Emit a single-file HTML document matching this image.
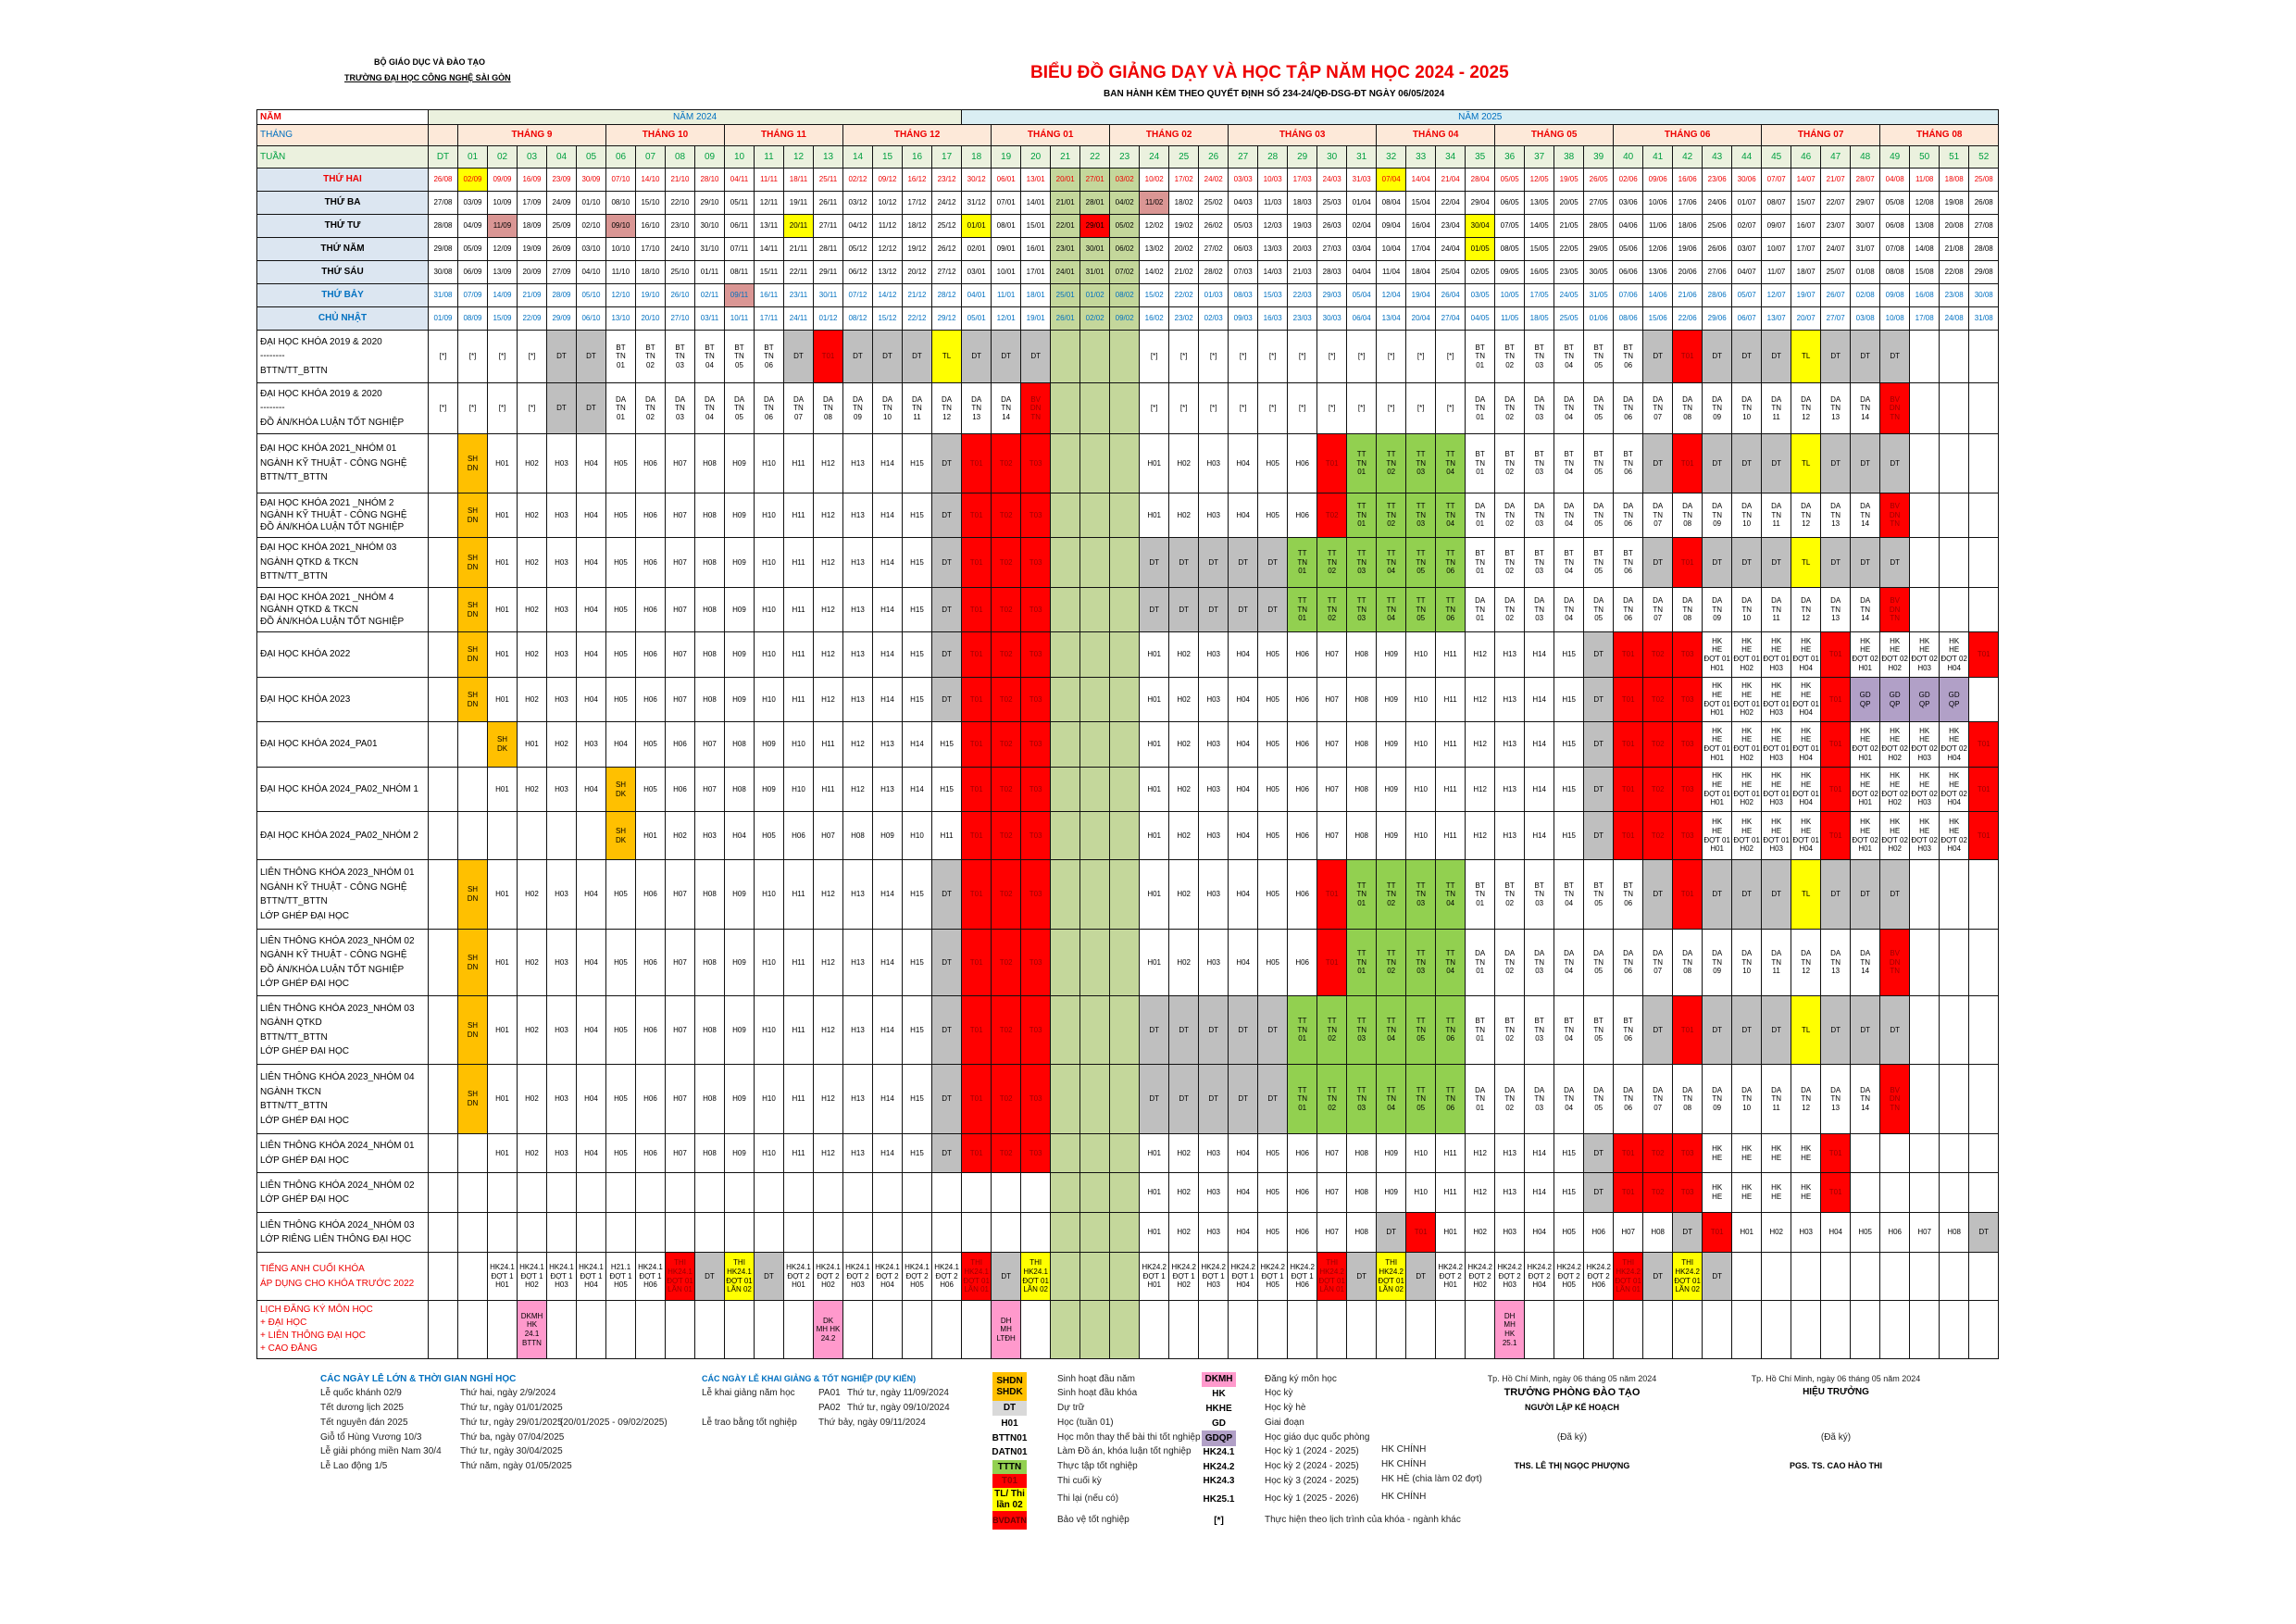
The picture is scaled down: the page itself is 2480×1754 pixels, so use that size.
<!DOCTYPE html>
<html><head><meta charset="utf-8">
<style>
*{box-sizing:border-box;margin:0;padding:0}
body{width:2480px;height:1754px;background:#fff;position:relative;font-family:"Liberation Sans",Arial,sans-serif;overflow:hidden}
.abs{position:absolute;white-space:nowrap}
table{position:absolute;left:277px;top:118px;border-collapse:collapse;table-layout:fixed;width:1881px}
td{border:1px solid #111;text-align:center;vertical-align:middle;font-size:8px;line-height:1.2;overflow:hidden;padding:0}
td.lb{text-align:left;font-size:10px;line-height:1.55;padding-left:3px}
.o{background:#ffc000}.g{background:#bfbfbf}.r{background:#ff0000;color:#900}.y{background:#ffff00}.n{background:#92d050}.l{background:#c4d79b}.p{background:#ff99cc}.v{background:#b1a0c7}.k{background:#da9694}
tr.h1 td{height:16px;font-size:10px;color:#0070c0}
tr.h2 td{height:23px;font-size:10px;font-weight:bold;color:#e00;background:#fde9d9}
tr.h3 td{height:24px;font-size:10px;color:#00a040;background:#ebf1de}
tr.d td{height:25px}
tr.d td.dl{background:#dce6f1;font-weight:bold;font-size:10px}
tr.mon td{color:#e00}tr.blu td{color:#0070c0}
.leg{font-size:10px;color:#222}
.bx{position:absolute;width:37px;text-align:center;font-size:10px;font-weight:bold;display:flex;align-items:center;justify-content:center;line-height:1.2}
</style></head><body>
<div class="abs" style="left:404px;top:62px;font-size:9px;font-weight:bold">BỘ GIÁO DỤC VÀ ĐÀO TẠO</div>
<div class="abs" style="left:372px;top:79px;font-size:9px;font-weight:bold;text-decoration:underline">TRƯỜNG ĐẠI HỌC CÔNG NGHỆ SÀI GÒN</div>
<div class="abs" style="left:1113px;top:68px;font-size:19px;font-weight:bold;color:#e00">BIỂU ĐỒ GIẢNG DẠY VÀ HỌC TẬP NĂM HỌC 2024 - 2025</div>
<div class="abs" style="left:1192px;top:96px;font-size:10px;font-weight:bold">BAN HÀNH KÈM THEO QUYẾT ĐỊNH SỐ 234-24/QĐ-DSG-ĐT NGÀY 06/05/2024</div>

<table>
<colgroup><col style="width:185px"><col span="53" style="width:32px"></colgroup>
<tr class="h1"><td class="lb" style="color:#e00;font-weight:bold;line-height:1">NĂM</td><td colspan="18" style="background:#ebf1de">NĂM 2024</td><td colspan="35" style="background:#daeef3">NĂM 2025</td></tr>
<tr class="h2"><td class="lb" style="color:#0070c0;font-weight:normal;line-height:1">THÁNG</td><td></td><td colspan="5">THÁNG 9</td><td colspan="4">THÁNG 10</td><td colspan="4">THÁNG 11</td><td colspan="5">THÁNG 12</td><td colspan="4">THÁNG 01</td><td colspan="4">THÁNG 02</td><td colspan="5">THÁNG 03</td><td colspan="4">THÁNG 04</td><td colspan="4">THÁNG 05</td><td colspan="5">THÁNG 06</td><td colspan="4">THÁNG 07</td><td colspan="4">THÁNG 08</td></tr>
<tr class="h3"><td class="lb" style="line-height:1">TUẦN</td><td>DT</td><td>01</td><td>02</td><td>03</td><td>04</td><td>05</td><td>06</td><td>07</td><td>08</td><td>09</td><td>10</td><td>11</td><td>12</td><td>13</td><td>14</td><td>15</td><td>16</td><td>17</td><td>18</td><td>19</td><td>20</td><td>21</td><td>22</td><td>23</td><td>24</td><td>25</td><td>26</td><td>27</td><td>28</td><td>29</td><td>30</td><td>31</td><td>32</td><td>33</td><td>34</td><td>35</td><td>36</td><td>37</td><td>38</td><td>39</td><td>40</td><td>41</td><td>42</td><td>43</td><td>44</td><td>45</td><td>46</td><td>47</td><td>48</td><td>49</td><td>50</td><td>51</td><td>52</td></tr>

<tr class="d mon"><td class="dl" style="color:#e00">THỨ HAI</td><td>26/08</td><td class="y">02/09</td><td>09/09</td><td>16/09</td><td>23/09</td><td>30/09</td><td>07/10</td><td>14/10</td><td>21/10</td><td>28/10</td><td>04/11</td><td>11/11</td><td>18/11</td><td>25/11</td><td>02/12</td><td>09/12</td><td>16/12</td><td>23/12</td><td>30/12</td><td>06/01</td><td>13/01</td><td class="l">20/01</td><td class="l">27/01</td><td class="l">03/02</td><td>10/02</td><td>17/02</td><td>24/02</td><td>03/03</td><td>10/03</td><td>17/03</td><td>24/03</td><td>31/03</td><td class="y">07/04</td><td>14/04</td><td>21/04</td><td>28/04</td><td>05/05</td><td>12/05</td><td>19/05</td><td>26/05</td><td>02/06</td><td>09/06</td><td>16/06</td><td>23/06</td><td>30/06</td><td>07/07</td><td>14/07</td><td>21/07</td><td>28/07</td><td>04/08</td><td>11/08</td><td>18/08</td><td>25/08</td></tr>
<tr class="d"><td class="dl">THỨ BA</td><td>27/08</td><td>03/09</td><td>10/09</td><td>17/09</td><td>24/09</td><td>01/10</td><td>08/10</td><td>15/10</td><td>22/10</td><td>29/10</td><td>05/11</td><td>12/11</td><td>19/11</td><td>26/11</td><td>03/12</td><td>10/12</td><td>17/12</td><td>24/12</td><td>31/12</td><td>07/01</td><td>14/01</td><td class="l">21/01</td><td class="l">28/01</td><td class="l">04/02</td><td class="k">11/02</td><td>18/02</td><td>25/02</td><td>04/03</td><td>11/03</td><td>18/03</td><td>25/03</td><td>01/04</td><td>08/04</td><td>15/04</td><td>22/04</td><td>29/04</td><td>06/05</td><td>13/05</td><td>20/05</td><td>27/05</td><td>03/06</td><td>10/06</td><td>17/06</td><td>24/06</td><td>01/07</td><td>08/07</td><td>15/07</td><td>22/07</td><td>29/07</td><td>05/08</td><td>12/08</td><td>19/08</td><td>26/08</td></tr>
<tr class="d"><td class="dl">THỨ TƯ</td><td>28/08</td><td>04/09</td><td class="k">11/09</td><td>18/09</td><td>25/09</td><td>02/10</td><td class="k">09/10</td><td>16/10</td><td>23/10</td><td>30/10</td><td>06/11</td><td>13/11</td><td class="y">20/11</td><td>27/11</td><td>04/12</td><td>11/12</td><td>18/12</td><td>25/12</td><td class="y">01/01</td><td>08/01</td><td>15/01</td><td class="l">22/01</td><td class="r" style="color:#000">29/01</td><td class="l">05/02</td><td>12/02</td><td>19/02</td><td>26/02</td><td>05/03</td><td>12/03</td><td>19/03</td><td>26/03</td><td>02/04</td><td>09/04</td><td>16/04</td><td>23/04</td><td class="y">30/04</td><td>07/05</td><td>14/05</td><td>21/05</td><td>28/05</td><td>04/06</td><td>11/06</td><td>18/06</td><td>25/06</td><td>02/07</td><td>09/07</td><td>16/07</td><td>23/07</td><td>30/07</td><td>06/08</td><td>13/08</td><td>20/08</td><td>27/08</td></tr>
<tr class="d"><td class="dl">THỨ NĂM</td><td>29/08</td><td>05/09</td><td>12/09</td><td>19/09</td><td>26/09</td><td>03/10</td><td>10/10</td><td>17/10</td><td>24/10</td><td>31/10</td><td>07/11</td><td>14/11</td><td>21/11</td><td>28/11</td><td>05/12</td><td>12/12</td><td>19/12</td><td>26/12</td><td>02/01</td><td>09/01</td><td>16/01</td><td class="l">23/01</td><td class="l">30/01</td><td class="l">06/02</td><td>13/02</td><td>20/02</td><td>27/02</td><td>06/03</td><td>13/03</td><td>20/03</td><td>27/03</td><td>03/04</td><td>10/04</td><td>17/04</td><td>24/04</td><td class="y">01/05</td><td>08/05</td><td>15/05</td><td>22/05</td><td>29/05</td><td>05/06</td><td>12/06</td><td>19/06</td><td>26/06</td><td>03/07</td><td>10/07</td><td>17/07</td><td>24/07</td><td>31/07</td><td>07/08</td><td>14/08</td><td>21/08</td><td>28/08</td></tr>
<tr class="d"><td class="dl">THỨ SÁU</td><td>30/08</td><td>06/09</td><td>13/09</td><td>20/09</td><td>27/09</td><td>04/10</td><td>11/10</td><td>18/10</td><td>25/10</td><td>01/11</td><td>08/11</td><td>15/11</td><td>22/11</td><td>29/11</td><td>06/12</td><td>13/12</td><td>20/12</td><td>27/12</td><td>03/01</td><td>10/01</td><td>17/01</td><td class="l">24/01</td><td class="l">31/01</td><td class="l">07/02</td><td>14/02</td><td>21/02</td><td>28/02</td><td>07/03</td><td>14/03</td><td>21/03</td><td>28/03</td><td>04/04</td><td>11/04</td><td>18/04</td><td>25/04</td><td>02/05</td><td>09/05</td><td>16/05</td><td>23/05</td><td>30/05</td><td>06/06</td><td>13/06</td><td>20/06</td><td>27/06</td><td>04/07</td><td>11/07</td><td>18/07</td><td>25/07</td><td>01/08</td><td>08/08</td><td>15/08</td><td>22/08</td><td>29/08</td></tr>
<tr class="d blu"><td class="dl" style="color:#0070c0">THỨ BẢY</td><td>31/08</td><td>07/09</td><td>14/09</td><td>21/09</td><td>28/09</td><td>05/10</td><td>12/10</td><td>19/10</td><td>26/10</td><td>02/11</td><td class="k">09/11</td><td>16/11</td><td>23/11</td><td>30/11</td><td>07/12</td><td>14/12</td><td>21/12</td><td>28/12</td><td>04/01</td><td>11/01</td><td>18/01</td><td class="l">25/01</td><td class="l">01/02</td><td class="l">08/02</td><td>15/02</td><td>22/02</td><td>01/03</td><td>08/03</td><td>15/03</td><td>22/03</td><td>29/03</td><td>05/04</td><td>12/04</td><td>19/04</td><td>26/04</td><td>03/05</td><td>10/05</td><td>17/05</td><td>24/05</td><td>31/05</td><td>07/06</td><td>14/06</td><td>21/06</td><td>28/06</td><td>05/07</td><td>12/07</td><td>19/07</td><td>26/07</td><td>02/08</td><td>09/08</td><td>16/08</td><td>23/08</td><td>30/08</td></tr>
<tr class="d blu"><td class="dl" style="color:#0070c0">CHỦ NHẬT</td><td>01/09</td><td>08/09</td><td>15/09</td><td>22/09</td><td>29/09</td><td>06/10</td><td>13/10</td><td>20/10</td><td>27/10</td><td>03/11</td><td>10/11</td><td>17/11</td><td>24/11</td><td>01/12</td><td>08/12</td><td>15/12</td><td>22/12</td><td>29/12</td><td>05/01</td><td>12/01</td><td>19/01</td><td class="l">26/01</td><td class="l">02/02</td><td class="l">09/02</td><td>16/02</td><td>23/02</td><td>02/03</td><td>09/03</td><td>16/03</td><td>23/03</td><td>30/03</td><td>06/04</td><td>13/04</td><td>20/04</td><td>27/04</td><td>04/05</td><td>11/05</td><td>18/05</td><td>25/05</td><td>01/06</td><td>08/06</td><td>15/06</td><td>22/06</td><td>29/06</td><td>06/07</td><td>13/07</td><td>20/07</td><td>27/07</td><td>03/08</td><td>10/08</td><td>17/08</td><td>24/08</td><td>31/08</td></tr>

<tr style="height:57px"><td class="lb">ĐẠI HỌC KHÓA 2019 &amp; 2020<br>--------<br>BTTN/TT_BTTN</td><td>[*]</td><td>[*]</td><td>[*]</td><td>[*]</td><td class="g">DT</td><td class="g">DT</td><td>BT<br>TN<br>01</td><td>BT<br>TN<br>02</td><td>BT<br>TN<br>03</td><td>BT<br>TN<br>04</td><td>BT<br>TN<br>05</td><td>BT<br>TN<br>06</td><td class="g">DT</td><td class="r">T01</td><td class="g">DT</td><td class="g">DT</td><td class="g">DT</td><td class="y">TL</td><td class="g">DT</td><td class="g">DT</td><td class="g">DT</td><td class="l"></td><td class="l"></td><td class="l"></td><td>[*]</td><td>[*]</td><td>[*]</td><td>[*]</td><td>[*]</td><td>[*]</td><td>[*]</td><td>[*]</td><td>[*]</td><td>[*]</td><td>[*]</td><td>BT<br>TN<br>01</td><td>BT<br>TN<br>02</td><td>BT<br>TN<br>03</td><td>BT<br>TN<br>04</td><td>BT<br>TN<br>05</td><td>BT<br>TN<br>06</td><td class="g">DT</td><td class="r">T01</td><td class="g">DT</td><td class="g">DT</td><td class="g">DT</td><td class="y">TL</td><td class="g">DT</td><td class="g">DT</td><td class="g">DT</td><td></td><td></td><td></td></tr>

<tr style="height:55px"><td class="lb">ĐẠI HỌC KHÓA 2019 &amp; 2020<br>--------<br>ĐỒ ÁN/KHÓA LUẬN TỐT NGHIỆP</td><td>[*]</td><td>[*]</td><td>[*]</td><td>[*]</td><td class="g">DT</td><td class="g">DT</td><td>DA<br>TN<br>01</td><td>DA<br>TN<br>02</td><td>DA<br>TN<br>03</td><td>DA<br>TN<br>04</td><td>DA<br>TN<br>05</td><td>DA<br>TN<br>06</td><td>DA<br>TN<br>07</td><td>DA<br>TN<br>08</td><td>DA<br>TN<br>09</td><td>DA<br>TN<br>10</td><td>DA<br>TN<br>11</td><td>DA<br>TN<br>12</td><td>DA<br>TN<br>13</td><td>DA<br>TN<br>14</td><td class="r">BV<br>DN<br>TN</td><td class="l"></td><td class="l"></td><td class="l"></td><td>[*]</td><td>[*]</td><td>[*]</td><td>[*]</td><td>[*]</td><td>[*]</td><td>[*]</td><td>[*]</td><td>[*]</td><td>[*]</td><td>[*]</td><td>DA<br>TN<br>01</td><td>DA<br>TN<br>02</td><td>DA<br>TN<br>03</td><td>DA<br>TN<br>04</td><td>DA<br>TN<br>05</td><td>DA<br>TN<br>06</td><td>DA<br>TN<br>07</td><td>DA<br>TN<br>08</td><td>DA<br>TN<br>09</td><td>DA<br>TN<br>10</td><td>DA<br>TN<br>11</td><td>DA<br>TN<br>12</td><td>DA<br>TN<br>13</td><td>DA<br>TN<br>14</td><td class="r">BV<br>DN<br>TN</td><td></td><td></td><td></td></tr>

<tr style="height:64px"><td class="lb">ĐẠI HỌC KHÓA 2021_NHÓM 01<br>NGÀNH KỸ THUẬT - CÔNG NGHỆ<br>BTTN/TT_BTTN</td><td></td><td class="o">SH<br>DN</td><td>H01</td><td>H02</td><td>H03</td><td>H04</td><td>H05</td><td>H06</td><td>H07</td><td>H08</td><td>H09</td><td>H10</td><td>H11</td><td>H12</td><td>H13</td><td>H14</td><td>H15</td><td class="g">DT</td><td class="r">T01</td><td class="r">T02</td><td class="r">T03</td><td class="l"></td><td class="l"></td><td class="l"></td><td>H01</td><td>H02</td><td>H03</td><td>H04</td><td>H05</td><td>H06</td><td class="r">T01</td><td class="n">TT<br>TN<br>01</td><td class="n">TT<br>TN<br>02</td><td class="n">TT<br>TN<br>03</td><td class="n">TT<br>TN<br>04</td><td>BT<br>TN<br>01</td><td>BT<br>TN<br>02</td><td>BT<br>TN<br>03</td><td>BT<br>TN<br>04</td><td>BT<br>TN<br>05</td><td>BT<br>TN<br>06</td><td class="g">DT</td><td class="r">T01</td><td class="g">DT</td><td class="g">DT</td><td class="g">DT</td><td class="y">TL</td><td class="g">DT</td><td class="g">DT</td><td class="g">DT</td><td></td><td></td><td></td></tr>

<tr style="height:48px"><td class="lb" style="line-height:1.3">ĐẠI HỌC KHÓA 2021 _NHÓM 2<br>NGÀNH KỸ THUẬT - CÔNG NGHỆ<br>ĐỒ ÁN/KHÓA LUẬN TỐT NGHIỆP</td><td></td><td class="o">SH<br>DN</td><td>H01</td><td>H02</td><td>H03</td><td>H04</td><td>H05</td><td>H06</td><td>H07</td><td>H08</td><td>H09</td><td>H10</td><td>H11</td><td>H12</td><td>H13</td><td>H14</td><td>H15</td><td class="g">DT</td><td class="r">T01</td><td class="r">T02</td><td class="r">T03</td><td class="l"></td><td class="l"></td><td class="l"></td><td>H01</td><td>H02</td><td>H03</td><td>H04</td><td>H05</td><td>H06</td><td class="r">T02</td><td class="n">TT<br>TN<br>01</td><td class="n">TT<br>TN<br>02</td><td class="n">TT<br>TN<br>03</td><td class="n">TT<br>TN<br>04</td><td>DA<br>TN<br>01</td><td>DA<br>TN<br>02</td><td>DA<br>TN<br>03</td><td>DA<br>TN<br>04</td><td>DA<br>TN<br>05</td><td>DA<br>TN<br>06</td><td>DA<br>TN<br>07</td><td>DA<br>TN<br>08</td><td>DA<br>TN<br>09</td><td>DA<br>TN<br>10</td><td>DA<br>TN<br>11</td><td>DA<br>TN<br>12</td><td>DA<br>TN<br>13</td><td>DA<br>TN<br>14</td><td class="r">BV<br>DN<br>TN</td><td></td><td></td><td></td></tr>

<tr style="height:54px"><td class="lb">ĐẠI HỌC KHÓA 2021_NHÓM 03<br>NGÀNH QTKD &amp; TKCN<br>BTTN/TT_BTTN</td><td></td><td class="o">SH<br>DN</td><td>H01</td><td>H02</td><td>H03</td><td>H04</td><td>H05</td><td>H06</td><td>H07</td><td>H08</td><td>H09</td><td>H10</td><td>H11</td><td>H12</td><td>H13</td><td>H14</td><td>H15</td><td class="g">DT</td><td class="r">T01</td><td class="r">T02</td><td class="r">T03</td><td class="l"></td><td class="l"></td><td class="l"></td><td class="g">DT</td><td class="g">DT</td><td class="g">DT</td><td class="g">DT</td><td class="g">DT</td><td class="n">TT<br>TN<br>01</td><td class="n">TT<br>TN<br>02</td><td class="n">TT<br>TN<br>03</td><td class="n">TT<br>TN<br>04</td><td class="n">TT<br>TN<br>05</td><td class="n">TT<br>TN<br>06</td><td>BT<br>TN<br>01</td><td>BT<br>TN<br>02</td><td>BT<br>TN<br>03</td><td>BT<br>TN<br>04</td><td>BT<br>TN<br>05</td><td>BT<br>TN<br>06</td><td class="g">DT</td><td class="r">T01</td><td class="g">DT</td><td class="g">DT</td><td class="g">DT</td><td class="y">TL</td><td class="g">DT</td><td class="g">DT</td><td class="g">DT</td><td></td><td></td><td></td></tr>

<tr style="height:48px"><td class="lb" style="line-height:1.3">ĐẠI HỌC KHÓA 2021 _NHÓM 4<br>NGÀNH QTKD &amp; TKCN<br>ĐỒ ÁN/KHÓA LUẬN TỐT NGHIỆP</td><td></td><td class="o">SH<br>DN</td><td>H01</td><td>H02</td><td>H03</td><td>H04</td><td>H05</td><td>H06</td><td>H07</td><td>H08</td><td>H09</td><td>H10</td><td>H11</td><td>H12</td><td>H13</td><td>H14</td><td>H15</td><td class="g">DT</td><td class="r">T01</td><td class="r">T02</td><td class="r">T03</td><td class="l"></td><td class="l"></td><td class="l"></td><td class="g">DT</td><td class="g">DT</td><td class="g">DT</td><td class="g">DT</td><td class="g">DT</td><td class="n">TT<br>TN<br>01</td><td class="n">TT<br>TN<br>02</td><td class="n">TT<br>TN<br>03</td><td class="n">TT<br>TN<br>04</td><td class="n">TT<br>TN<br>05</td><td class="n">TT<br>TN<br>06</td><td>DA<br>TN<br>01</td><td>DA<br>TN<br>02</td><td>DA<br>TN<br>03</td><td>DA<br>TN<br>04</td><td>DA<br>TN<br>05</td><td>DA<br>TN<br>06</td><td>DA<br>TN<br>07</td><td>DA<br>TN<br>08</td><td>DA<br>TN<br>09</td><td>DA<br>TN<br>10</td><td>DA<br>TN<br>11</td><td>DA<br>TN<br>12</td><td>DA<br>TN<br>13</td><td>DA<br>TN<br>14</td><td class="r">BV<br>DN<br>TN</td><td></td><td></td><td></td></tr>

<tr style="height:49px"><td class="lb">ĐẠI HỌC KHÓA 2022</td><td></td><td class="o">SH<br>DN</td><td>H01</td><td>H02</td><td>H03</td><td>H04</td><td>H05</td><td>H06</td><td>H07</td><td>H08</td><td>H09</td><td>H10</td><td>H11</td><td>H12</td><td>H13</td><td>H14</td><td>H15</td><td class="g">DT</td><td class="r">T01</td><td class="r">T02</td><td class="r">T03</td><td class="l"></td><td class="l"></td><td class="l"></td><td>H01</td><td>H02</td><td>H03</td><td>H04</td><td>H05</td><td>H06</td><td>H07</td><td>H08</td><td>H09</td><td>H10</td><td>H11</td><td>H12</td><td>H13</td><td>H14</td><td>H15</td><td class="g">DT</td><td class="r">T01</td><td class="r">T02</td><td class="r">T03</td><td>HK<br>HE<br>ĐỢT 01<br>H01</td><td>HK<br>HE<br>ĐỢT 01<br>H02</td><td>HK<br>HE<br>ĐỢT 01<br>H03</td><td>HK<br>HE<br>ĐỢT 01<br>H04</td><td class="r">T01</td><td>HK<br>HE<br>ĐỢT 02<br>H01</td><td>HK<br>HE<br>ĐỢT 02<br>H02</td><td>HK<br>HE<br>ĐỢT 02<br>H03</td><td>HK<br>HE<br>ĐỢT 02<br>H04</td><td class="r">T01</td></tr>

<tr style="height:48px"><td class="lb">ĐẠI HỌC KHÓA 2023</td><td></td><td class="o">SH<br>DN</td><td>H01</td><td>H02</td><td>H03</td><td>H04</td><td>H05</td><td>H06</td><td>H07</td><td>H08</td><td>H09</td><td>H10</td><td>H11</td><td>H12</td><td>H13</td><td>H14</td><td>H15</td><td class="g">DT</td><td class="r">T01</td><td class="r">T02</td><td class="r">T03</td><td class="l"></td><td class="l"></td><td class="l"></td><td>H01</td><td>H02</td><td>H03</td><td>H04</td><td>H05</td><td>H06</td><td>H07</td><td>H08</td><td>H09</td><td>H10</td><td>H11</td><td>H12</td><td>H13</td><td>H14</td><td>H15</td><td class="g">DT</td><td class="r">T01</td><td class="r">T02</td><td class="r">T03</td><td>HK<br>HE<br>ĐỢT 01<br>H01</td><td>HK<br>HE<br>ĐỢT 01<br>H02</td><td>HK<br>HE<br>ĐỢT 01<br>H03</td><td>HK<br>HE<br>ĐỢT 01<br>H04</td><td class="r">T01</td><td class="v">GD<br>QP</td><td class="v">GD<br>QP</td><td class="v">GD<br>QP</td><td class="v">GD<br>QP</td><td></td></tr>

<tr style="height:49px"><td class="lb">ĐẠI HỌC KHÓA 2024_PA01</td><td></td><td></td><td class="o">SH<br>DK</td><td>H01</td><td>H02</td><td>H03</td><td>H04</td><td>H05</td><td>H06</td><td>H07</td><td>H08</td><td>H09</td><td>H10</td><td>H11</td><td>H12</td><td>H13</td><td>H14</td><td>H15</td><td class="r">T01</td><td class="r">T02</td><td class="r">T03</td><td class="l"></td><td class="l"></td><td class="l"></td><td>H01</td><td>H02</td><td>H03</td><td>H04</td><td>H05</td><td>H06</td><td>H07</td><td>H08</td><td>H09</td><td>H10</td><td>H11</td><td>H12</td><td>H13</td><td>H14</td><td>H15</td><td class="g">DT</td><td class="r">T01</td><td class="r">T02</td><td class="r">T03</td><td>HK<br>HE<br>ĐỢT 01<br>H01</td><td>HK<br>HE<br>ĐỢT 01<br>H02</td><td>HK<br>HE<br>ĐỢT 01<br>H03</td><td>HK<br>HE<br>ĐỢT 01<br>H04</td><td class="r">T01</td><td>HK<br>HE<br>ĐỢT 02<br>H01</td><td>HK<br>HE<br>ĐỢT 02<br>H02</td><td>HK<br>HE<br>ĐỢT 02<br>H03</td><td>HK<br>HE<br>ĐỢT 02<br>H04</td><td class="r">T01</td></tr>

<tr style="height:48px"><td class="lb">ĐẠI HỌC KHÓA 2024_PA02_NHÓM 1</td><td></td><td></td><td>H01</td><td>H02</td><td>H03</td><td>H04</td><td class="o">SH<br>DK</td><td>H05</td><td>H06</td><td>H07</td><td>H08</td><td>H09</td><td>H10</td><td>H11</td><td>H12</td><td>H13</td><td>H14</td><td>H15</td><td class="r">T01</td><td class="r">T02</td><td class="r">T03</td><td class="l"></td><td class="l"></td><td class="l"></td><td>H01</td><td>H02</td><td>H03</td><td>H04</td><td>H05</td><td>H06</td><td>H07</td><td>H08</td><td>H09</td><td>H10</td><td>H11</td><td>H12</td><td>H13</td><td>H14</td><td>H15</td><td class="g">DT</td><td class="r">T01</td><td class="r">T02</td><td class="r">T03</td><td>HK<br>HE<br>ĐỢT 01<br>H01</td><td>HK<br>HE<br>ĐỢT 01<br>H02</td><td>HK<br>HE<br>ĐỢT 01<br>H03</td><td>HK<br>HE<br>ĐỢT 01<br>H04</td><td class="r">T01</td><td>HK<br>HE<br>ĐỢT 02<br>H01</td><td>HK<br>HE<br>ĐỢT 02<br>H02</td><td>HK<br>HE<br>ĐỢT 02<br>H03</td><td>HK<br>HE<br>ĐỢT 02<br>H04</td><td class="r">T01</td></tr>

<tr style="height:52px"><td class="lb">ĐẠI HỌC KHÓA 2024_PA02_NHÓM 2</td><td></td><td></td><td></td><td></td><td></td><td></td><td class="o">SH<br>DK</td><td>H01</td><td>H02</td><td>H03</td><td>H04</td><td>H05</td><td>H06</td><td>H07</td><td>H08</td><td>H09</td><td>H10</td><td>H11</td><td class="r">T01</td><td class="r">T02</td><td class="r">T03</td><td class="l"></td><td class="l"></td><td class="l"></td><td>H01</td><td>H02</td><td>H03</td><td>H04</td><td>H05</td><td>H06</td><td>H07</td><td>H08</td><td>H09</td><td>H10</td><td>H11</td><td>H12</td><td>H13</td><td>H14</td><td>H15</td><td class="g">DT</td><td class="r">T01</td><td class="r">T02</td><td class="r">T03</td><td>HK<br>HE<br>ĐỢT 01<br>H01</td><td>HK<br>HE<br>ĐỢT 01<br>H02</td><td>HK<br>HE<br>ĐỢT 01<br>H03</td><td>HK<br>HE<br>ĐỢT 01<br>H04</td><td class="r">T01</td><td>HK<br>HE<br>ĐỢT 02<br>H01</td><td>HK<br>HE<br>ĐỢT 02<br>H02</td><td>HK<br>HE<br>ĐỢT 02<br>H03</td><td>HK<br>HE<br>ĐỢT 02<br>H04</td><td class="r">T01</td></tr>

<tr style="height:75px"><td class="lb">LIÊN THÔNG KHÓA 2023_NHÓM 01<br>NGÀNH KỸ THUẬT - CÔNG NGHỆ<br>BTTN/TT_BTTN<br>LỚP GHÉP ĐẠI HỌC</td><td></td><td class="o">SH<br>DN</td><td>H01</td><td>H02</td><td>H03</td><td>H04</td><td>H05</td><td>H06</td><td>H07</td><td>H08</td><td>H09</td><td>H10</td><td>H11</td><td>H12</td><td>H13</td><td>H14</td><td>H15</td><td class="g">DT</td><td class="r">T01</td><td class="r">T02</td><td class="r">T03</td><td class="l"></td><td class="l"></td><td class="l"></td><td>H01</td><td>H02</td><td>H03</td><td>H04</td><td>H05</td><td>H06</td><td class="r">T01</td><td class="n">TT<br>TN<br>01</td><td class="n">TT<br>TN<br>02</td><td class="n">TT<br>TN<br>03</td><td class="n">TT<br>TN<br>04</td><td>BT<br>TN<br>01</td><td>BT<br>TN<br>02</td><td>BT<br>TN<br>03</td><td>BT<br>TN<br>04</td><td>BT<br>TN<br>05</td><td>BT<br>TN<br>06</td><td class="g">DT</td><td class="r">T01</td><td class="g">DT</td><td class="g">DT</td><td class="g">DT</td><td class="y">TL</td><td class="g">DT</td><td class="g">DT</td><td class="g">DT</td><td></td><td></td><td></td></tr>

<tr style="height:72px"><td class="lb">LIÊN THÔNG KHÓA 2023_NHÓM 02<br>NGÀNH KỸ THUẬT - CÔNG NGHỆ<br>ĐỒ ÁN/KHÓA LUẬN TỐT NGHIỆP<br>LỚP GHÉP ĐẠI HỌC</td><td></td><td class="o">SH<br>DN</td><td>H01</td><td>H02</td><td>H03</td><td>H04</td><td>H05</td><td>H06</td><td>H07</td><td>H08</td><td>H09</td><td>H10</td><td>H11</td><td>H12</td><td>H13</td><td>H14</td><td>H15</td><td class="g">DT</td><td class="r">T01</td><td class="r">T02</td><td class="r">T03</td><td class="l"></td><td class="l"></td><td class="l"></td><td>H01</td><td>H02</td><td>H03</td><td>H04</td><td>H05</td><td>H06</td><td class="r">T01</td><td class="n">TT<br>TN<br>01</td><td class="n">TT<br>TN<br>02</td><td class="n">TT<br>TN<br>03</td><td class="n">TT<br>TN<br>04</td><td>DA<br>TN<br>01</td><td>DA<br>TN<br>02</td><td>DA<br>TN<br>03</td><td>DA<br>TN<br>04</td><td>DA<br>TN<br>05</td><td>DA<br>TN<br>06</td><td>DA<br>TN<br>07</td><td>DA<br>TN<br>08</td><td>DA<br>TN<br>09</td><td>DA<br>TN<br>10</td><td>DA<br>TN<br>11</td><td>DA<br>TN<br>12</td><td>DA<br>TN<br>13</td><td>DA<br>TN<br>14</td><td class="r">BV<br>DN<br>TN</td><td></td><td></td><td></td></tr>

<tr style="height:74px"><td class="lb">LIÊN THÔNG KHÓA 2023_NHÓM 03<br>NGÀNH QTKD<br>BTTN/TT_BTTN<br>LỚP GHÉP ĐẠI HỌC</td><td></td><td class="o">SH<br>DN</td><td>H01</td><td>H02</td><td>H03</td><td>H04</td><td>H05</td><td>H06</td><td>H07</td><td>H08</td><td>H09</td><td>H10</td><td>H11</td><td>H12</td><td>H13</td><td>H14</td><td>H15</td><td class="g">DT</td><td class="r">T01</td><td class="r">T02</td><td class="r">T03</td><td class="l"></td><td class="l"></td><td class="l"></td><td class="g">DT</td><td class="g">DT</td><td class="g">DT</td><td class="g">DT</td><td class="g">DT</td><td class="n">TT<br>TN<br>01</td><td class="n">TT<br>TN<br>02</td><td class="n">TT<br>TN<br>03</td><td class="n">TT<br>TN<br>04</td><td class="n">TT<br>TN<br>05</td><td class="n">TT<br>TN<br>06</td><td>BT<br>TN<br>01</td><td>BT<br>TN<br>02</td><td>BT<br>TN<br>03</td><td>BT<br>TN<br>04</td><td>BT<br>TN<br>05</td><td>BT<br>TN<br>06</td><td class="g">DT</td><td class="r">T01</td><td class="g">DT</td><td class="g">DT</td><td class="g">DT</td><td class="y">TL</td><td class="g">DT</td><td class="g">DT</td><td class="g">DT</td><td></td><td></td><td></td></tr>

<tr style="height:75px"><td class="lb">LIÊN THÔNG KHÓA 2023_NHÓM 04<br>NGÀNH TKCN<br>BTTN/TT_BTTN<br>LỚP GHÉP ĐẠI HỌC</td><td></td><td class="o">SH<br>DN</td><td>H01</td><td>H02</td><td>H03</td><td>H04</td><td>H05</td><td>H06</td><td>H07</td><td>H08</td><td>H09</td><td>H10</td><td>H11</td><td>H12</td><td>H13</td><td>H14</td><td>H15</td><td class="g">DT</td><td class="r">T01</td><td class="r">T02</td><td class="r">T03</td><td class="l"></td><td class="l"></td><td class="l"></td><td class="g">DT</td><td class="g">DT</td><td class="g">DT</td><td class="g">DT</td><td class="g">DT</td><td class="n">TT<br>TN<br>01</td><td class="n">TT<br>TN<br>02</td><td class="n">TT<br>TN<br>03</td><td class="n">TT<br>TN<br>04</td><td class="n">TT<br>TN<br>05</td><td class="n">TT<br>TN<br>06</td><td>DA<br>TN<br>01</td><td>DA<br>TN<br>02</td><td>DA<br>TN<br>03</td><td>DA<br>TN<br>04</td><td>DA<br>TN<br>05</td><td>DA<br>TN<br>06</td><td>DA<br>TN<br>07</td><td>DA<br>TN<br>08</td><td>DA<br>TN<br>09</td><td>DA<br>TN<br>10</td><td>DA<br>TN<br>11</td><td>DA<br>TN<br>12</td><td>DA<br>TN<br>13</td><td>DA<br>TN<br>14</td><td class="r">BV<br>DN<br>TN</td><td></td><td></td><td></td></tr>

<tr style="height:42px"><td class="lb">LIÊN THÔNG KHÓA 2024_NHÓM 01<br>LỚP GHÉP ĐẠI HỌC</td><td></td><td></td><td>H01</td><td>H02</td><td>H03</td><td>H04</td><td>H05</td><td>H06</td><td>H07</td><td>H08</td><td>H09</td><td>H10</td><td>H11</td><td>H12</td><td>H13</td><td>H14</td><td>H15</td><td class="g">DT</td><td class="r">T01</td><td class="r">T02</td><td class="r">T03</td><td class="l"></td><td class="l"></td><td class="l"></td><td>H01</td><td>H02</td><td>H03</td><td>H04</td><td>H05</td><td>H06</td><td>H07</td><td>H08</td><td>H09</td><td>H10</td><td>H11</td><td>H12</td><td>H13</td><td>H14</td><td>H15</td><td class="g">DT</td><td class="r">T01</td><td class="r">T02</td><td class="r">T03</td><td>HK<br>HE</td><td>HK<br>HE</td><td>HK<br>HE</td><td>HK<br>HE</td><td class="r">T01</td><td></td><td></td><td></td><td></td><td></td></tr>

<tr style="height:43px"><td class="lb">LIÊN THÔNG KHÓA 2024_NHÓM 02<br>LỚP GHÉP ĐẠI HỌC</td><td></td><td></td><td></td><td></td><td></td><td></td><td></td><td></td><td></td><td></td><td></td><td></td><td></td><td></td><td></td><td></td><td></td><td></td><td></td><td></td><td></td><td class="l"></td><td class="l"></td><td class="l"></td><td>H01</td><td>H02</td><td>H03</td><td>H04</td><td>H05</td><td>H06</td><td>H07</td><td>H08</td><td>H09</td><td>H10</td><td>H11</td><td>H12</td><td>H13</td><td>H14</td><td>H15</td><td class="g">DT</td><td class="r">T01</td><td class="r">T02</td><td class="r">T03</td><td>HK<br>HE</td><td>HK<br>HE</td><td>HK<br>HE</td><td>HK<br>HE</td><td class="r">T01</td><td></td><td></td><td></td><td></td><td></td></tr>

<tr style="height:43px"><td class="lb">LIÊN THÔNG KHÓA 2024_NHÓM 03<br>LỚP RIÊNG LIÊN THÔNG ĐẠI HỌC</td><td></td><td></td><td></td><td></td><td></td><td></td><td></td><td></td><td></td><td></td><td></td><td></td><td></td><td></td><td></td><td></td><td></td><td></td><td></td><td></td><td></td><td class="l"></td><td class="l"></td><td class="l"></td><td>H01</td><td>H02</td><td>H03</td><td>H04</td><td>H05</td><td>H06</td><td>H07</td><td>H08</td><td class="g">DT</td><td class="r">T01</td><td>H01</td><td>H02</td><td>H03</td><td>H04</td><td>H05</td><td>H06</td><td>H07</td><td>H08</td><td class="g">DT</td><td class="r">T01</td><td>H01</td><td>H02</td><td>H03</td><td>H04</td><td>H05</td><td>H06</td><td>H07</td><td>H08</td><td class="g">DT</td></tr>

<tr style="height:52px"><td class="lb" style="color:#e00">TIẾNG ANH CUỐI KHÓA<br>ÁP DỤNG CHO KHÓA TRƯỚC 2022</td><td></td><td></td><td>HK24.1<br>ĐỢT 1<br>H01</td><td>HK24.1<br>ĐỢT 1<br>H02</td><td>HK24.1<br>ĐỢT 1<br>H03</td><td>HK24.1<br>ĐỢT 1<br>H04</td><td>H21.1<br>ĐỢT 1<br>H05</td><td>HK24.1<br>ĐỢT 1<br>H06</td><td class="r">THI<br>HK24.1<br>ĐỢT 01<br>LẦN 01</td><td class="g">DT</td><td class="y">THI<br>HK24.1<br>ĐỢT 01<br>LẦN 02</td><td class="g">DT</td><td>HK24.1<br>ĐỢT 2<br>H01</td><td>HK24.1<br>ĐỢT 2<br>H02</td><td>HK24.1<br>ĐỢT 2<br>H03</td><td>HK24.1<br>ĐỢT 2<br>H04</td><td>HK24.1<br>ĐỢT 2<br>H05</td><td>HK24.1<br>ĐỢT 2<br>H06</td><td class="r">THI<br>HK24.1<br>ĐỢT 01<br>LẦN 01</td><td class="g">DT</td><td class="y">THI<br>HK24.1<br>ĐỢT 01<br>LẦN 02</td><td class="l"></td><td class="l"></td><td class="l"></td><td>HK24.2<br>ĐỢT 1<br>H01</td><td>HK24.2<br>ĐỢT 1<br>H02</td><td>HK24.2<br>ĐỢT 1<br>H03</td><td>HK24.2<br>ĐỢT 1<br>H04</td><td>HK24.2<br>ĐỢT 1<br>H05</td><td>HK24.2<br>ĐỢT 1<br>H06</td><td class="r">THI<br>HK24.2<br>ĐỢT 01<br>LẦN 01</td><td class="g">DT</td><td class="y">THI<br>HK24.2<br>ĐỢT 01<br>LẦN 02</td><td class="g">DT</td><td>HK24.2<br>ĐỢT 2<br>H01</td><td>HK24.2<br>ĐỢT 2<br>H02</td><td>HK24.2<br>ĐỢT 2<br>H03</td><td>HK24.2<br>ĐỢT 2<br>H04</td><td>HK24.2<br>ĐỢT 2<br>H05</td><td>HK24.2<br>ĐỢT 2<br>H06</td><td class="r">THI<br>HK24.2<br>ĐỢT 01<br>LẦN 01</td><td class="g">DT</td><td class="y">THI<br>HK24.2<br>ĐỢT 01<br>LẦN 02</td><td class="g">DT</td><td></td><td></td><td></td><td></td><td></td><td></td><td></td><td></td><td></td></tr>

<tr style="height:63px"><td class="lb" style="color:#e00;line-height:1.4">LỊCH ĐĂNG KÝ MÔN HỌC<br>+ ĐẠI HỌC<br>+ LIÊN THÔNG ĐẠI HỌC<br>+ CAO ĐẲNG</td><td></td><td></td><td></td><td class="p">DKMH<br>HK<br>24.1<br>BTTN</td><td></td><td></td><td></td><td></td><td></td><td></td><td></td><td></td><td></td><td class="p">DK<br>MH HK<br>24.2</td><td></td><td></td><td></td><td></td><td></td><td class="p">DH<br>MH<br>LTĐH</td><td></td><td class="l"></td><td class="l"></td><td class="l"></td><td></td><td></td><td></td><td></td><td></td><td></td><td></td><td></td><td></td><td></td><td></td><td></td><td class="p">DH<br>MH<br>HK<br>25.1</td><td></td><td></td><td></td><td></td><td></td><td></td><td></td><td></td><td></td><td></td><td></td><td></td><td></td><td></td><td></td><td></td></tr>
</table>

<!-- Legend left -->
<div class="abs" style="left:346px;top:1484px;font-size:10px;font-weight:bold;color:#0070c0">CÁC NGÀY LỄ LỚN &amp; THỜI GIAN NGHỈ HỌC</div>
<div class="abs leg" style="left:346px;top:1499px">Lễ quốc khánh 02/9</div><div class="abs leg" style="left:497px;top:1499px">Thứ hai, ngày 2/9/2024</div>
<div class="abs leg" style="left:346px;top:1515px">Tết dương lịch 2025</div><div class="abs leg" style="left:497px;top:1515px">Thứ tư, ngày 01/01/2025</div>
<div class="abs leg" style="left:346px;top:1531px">Tết nguyên đán 2025</div><div class="abs leg" style="left:497px;top:1531px">Thứ tư, ngày 29/01/2025</div><div class="abs leg" style="left:605px;top:1531px">(20/01/2025 - 09/02/2025)</div>
<div class="abs leg" style="left:346px;top:1547px">Giỗ tổ Hùng Vương 10/3</div><div class="abs leg" style="left:497px;top:1547px">Thứ ba, ngày 07/04/2025</div>
<div class="abs leg" style="left:346px;top:1562px">Lễ giải phóng miền Nam 30/4</div><div class="abs leg" style="left:497px;top:1562px">Thứ tư, ngày 30/04/2025</div>
<div class="abs leg" style="left:346px;top:1578px">Lễ Lao động 1/5</div><div class="abs leg" style="left:497px;top:1578px">Thứ năm, ngày 01/05/2025</div>

<div class="abs" style="left:758px;top:1484px;font-size:9px;font-weight:bold;color:#0070c0">CÁC NGÀY LỄ KHAI GIẢNG &amp; TỐT NGHIỆP (DỰ KIẾN)</div>
<div class="abs leg" style="left:758px;top:1499px">Lễ khai giảng năm học</div><div class="abs leg" style="left:884px;top:1499px">PA01</div><div class="abs leg" style="left:915px;top:1499px">Thứ tư, ngày 11/09/2024</div>
<div class="abs leg" style="left:884px;top:1515px">PA02</div><div class="abs leg" style="left:915px;top:1515px">Thứ tư, ngày 09/10/2024</div>
<div class="abs leg" style="left:758px;top:1531px">Lễ trao bằng tốt nghiệp</div><div class="abs leg" style="left:884px;top:1531px">Thứ bảy, ngày 09/11/2024</div>

<!-- Legend codes -->
<div class="bx" style="left:1072px;top:1482px;height:31px;background:#ffc000;flex-direction:column">SHDN<br>SHDK</div>
<div class="bx" style="left:1072px;top:1513px;height:16px;background:#d9d9d9">DT</div>
<div class="bx" style="left:1072px;top:1530px;height:15px">H01</div>
<div class="bx" style="left:1066px;top:1546px;height:15px;width:49px">BTTN01</div>
<div class="bx" style="left:1066px;top:1561px;height:15px;width:49px">DATN01</div>
<div class="bx" style="left:1072px;top:1577px;height:15px;background:#92d050">TTTN</div>
<div class="bx" style="left:1072px;top:1592px;height:15px;background:#ff0000;color:#900">T01</div>
<div class="bx" style="left:1072px;top:1607px;height:25px;background:#ffff00">TL/ Thi<br>lần 02</div>
<div class="bx" style="left:1072px;top:1632px;height:20px;background:#ff0000;color:#600;font-size:9px">BVDATN</div>
<div class="abs leg" style="left:1142px;top:1484px">Sinh hoạt đầu năm</div>
<div class="abs leg" style="left:1142px;top:1499px">Sinh hoạt đầu khóa</div>
<div class="abs leg" style="left:1142px;top:1515px">Dự trữ</div>
<div class="abs leg" style="left:1142px;top:1531px">Học (tuần 01)</div>
<div class="abs leg" style="left:1142px;top:1547px">Học môn thay thế bài thi tốt nghiệp</div>
<div class="abs leg" style="left:1142px;top:1562px">Làm Đồ án, khóa luận tốt nghiệp</div>
<div class="abs leg" style="left:1142px;top:1578px">Thực tập tốt nghiệp</div>
<div class="abs leg" style="left:1142px;top:1594px">Thi cuối kỳ</div>
<div class="abs leg" style="left:1142px;top:1613px">Thi lại (nếu có)</div>
<div class="abs leg" style="left:1142px;top:1636px">Bảo vệ tốt nghiệp</div>

<div class="bx" style="left:1298px;top:1482px;height:16px;background:#ff99cc">DKMH</div>
<div class="bx" style="left:1298px;top:1498px;height:15px">HK</div>
<div class="bx" style="left:1298px;top:1514px;height:15px">HKHE</div>
<div class="bx" style="left:1298px;top:1530px;height:15px">GD</div>
<div class="bx" style="left:1298px;top:1545px;height:17px;background:#b1a0c7">GDQP</div>
<div class="bx" style="left:1298px;top:1561px;height:15px">HK24.1</div>
<div class="bx" style="left:1298px;top:1577px;height:15px">HK24.2</div>
<div class="bx" style="left:1298px;top:1592px;height:15px">HK24.3</div>
<div class="bx" style="left:1298px;top:1612px;height:15px">HK25.1</div>
<div class="bx" style="left:1298px;top:1635px;height:15px">[*]</div>
<div class="abs leg" style="left:1366px;top:1484px">Đăng ký môn học</div>
<div class="abs leg" style="left:1366px;top:1499px">Học kỳ</div>
<div class="abs leg" style="left:1366px;top:1515px">Học kỳ hè</div>
<div class="abs leg" style="left:1366px;top:1531px">Giai đoạn</div>
<div class="abs leg" style="left:1366px;top:1547px">Học giáo dục quốc phòng</div>
<div class="abs leg" style="left:1366px;top:1562px">Học kỳ 1 (2024 - 2025)</div><div class="abs leg" style="left:1492px;top:1560px">HK CHÍNH</div>
<div class="abs leg" style="left:1366px;top:1578px">Học kỳ 2 (2024 - 2025)</div><div class="abs leg" style="left:1492px;top:1576px">HK CHÍNH</div>
<div class="abs leg" style="left:1366px;top:1594px">Học kỳ 3 (2024 - 2025)</div><div class="abs leg" style="left:1492px;top:1592px">HK HÈ (chia làm 02 đợt)</div>
<div class="abs leg" style="left:1366px;top:1613px">Học kỳ 1 (2025 - 2026)</div><div class="abs leg" style="left:1492px;top:1611px">HK CHÍNH</div>
<div class="abs leg" style="left:1366px;top:1636px">Thực hiện theo lịch trình của khóa - ngành khác</div>

<!-- Signatures -->
<div class="abs leg" style="left:1598px;top:1484px;width:200px;text-align:center;font-size:9px">Tp. Hồ Chí Minh, ngày 06 tháng 05 năm 2024</div>
<div class="abs" style="left:1598px;top:1498px;width:200px;text-align:center;font-size:11px;font-weight:bold">TRƯỞNG PHÒNG ĐÀO TẠO</div>
<div class="abs" style="left:1598px;top:1515px;width:200px;text-align:center;font-size:9px;font-weight:bold">NGƯỜI LẬP KẾ HOẠCH</div>
<div class="abs leg" style="left:1598px;top:1547px;width:200px;text-align:center">(Đã ký)</div>
<div class="abs" style="left:1598px;top:1578px;width:200px;text-align:center;font-size:9px;font-weight:bold">THS. LÊ THỊ NGỌC PHƯỢNG</div>
<div class="abs leg" style="left:1883px;top:1484px;width:200px;text-align:center;font-size:9px">Tp. Hồ Chí Minh, ngày 06 tháng 05 năm 2024</div>
<div class="abs" style="left:1883px;top:1498px;width:200px;text-align:center;font-size:10px;font-weight:bold">HIỆU TRƯỞNG</div>
<div class="abs leg" style="left:1883px;top:1547px;width:200px;text-align:center">(Đã ký)</div>
<div class="abs" style="left:1883px;top:1578px;width:200px;text-align:center;font-size:9px;font-weight:bold">PGS. TS. CAO HÀO THI</div>
</body></html>
